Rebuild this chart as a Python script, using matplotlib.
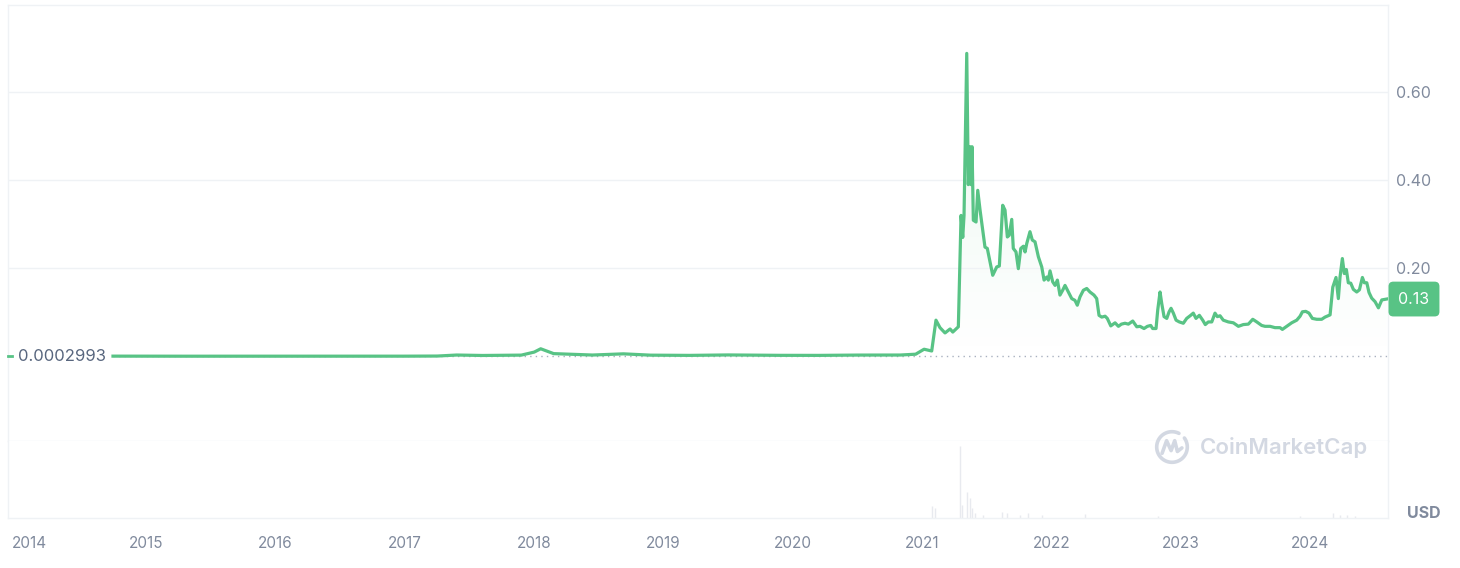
#!/usr/bin/env python3
"""
plot.py - price history chart (CoinMarketCap style) -> out.png
"""
import numpy as np
import matplotlib
matplotlib.use("Agg")
import matplotlib.pyplot as plt
import matplotlib.transforms as mtransforms

plt.rcParams["font.family"] = ["Inter", "DejaVu Sans"]

# ---- data (decimal year, USD) ----
t = [2014.742, 2015.0, 2015.3, 2015.6, 2016.0, 2016.3, 2016.6, 2017.0, 2017.25,
     2017.4, 2017.6, 2017.9, 2018.0, 2018.05, 2018.15, 2018.29, 2018.45,
     2018.69, 2018.9, 2019.2, 2019.5, 2019.9, 2020.2, 2020.5, 2020.83, 2020.95,
     2021.015, 2021.074, 2021.107, 2021.138, 2021.177, 2021.216, 2021.237,
     2021.280, 2021.301, 2021.314, 2021.324, 2021.345, 2021.357, 2021.370,
     2021.378, 2021.386, 2021.396, 2021.417, 2021.430, 2021.448, 2021.486,
     2021.504, 2021.546, 2021.577, 2021.597, 2021.623, 2021.641, 2021.659,
     2021.674, 2021.693, 2021.705, 2021.726, 2021.744, 2021.763, 2021.783,
     2021.796, 2021.809, 2021.834, 2021.852, 2021.873, 2021.899, 2021.925,
     2021.943, 2021.964, 2021.976, 2021.989, 2022.010, 2022.028, 2022.046,
     2022.066, 2022.087, 2022.105, 2022.131, 2022.157, 2022.182, 2022.200,
     2022.221, 2022.247, 2022.273, 2022.298, 2022.329, 2022.350, 2022.368,
     2022.389, 2022.415, 2022.432, 2022.459, 2022.492, 2022.518, 2022.541,
     2022.569, 2022.595, 2022.629, 2022.660, 2022.685, 2022.716, 2022.742,
     2022.768, 2022.783, 2022.809, 2022.822, 2022.840, 2022.853, 2022.871,
     2022.892, 2022.910, 2022.925, 2022.943, 2022.964, 2022.989, 2023.020,
     2023.046, 2023.077, 2023.097, 2023.118, 2023.144, 2023.170, 2023.190,
     2023.213, 2023.240, 2023.265, 2023.283, 2023.304, 2023.329, 2023.368,
     2023.407, 2023.446, 2023.484, 2023.523, 2023.557, 2023.588, 2023.626,
     2023.652, 2023.691, 2023.729, 2023.768, 2023.786, 2023.820, 2023.858,
     2023.897, 2023.923, 2023.941, 2023.967, 2023.992, 2024.018, 2024.052,
     2024.090, 2024.116, 2024.155, 2024.176, 2024.201, 2024.219, 2024.232,
     2024.250, 2024.265, 2024.281, 2024.296, 2024.315, 2024.335, 2024.361,
     2024.382, 2024.405, 2024.420, 2024.439, 2024.456, 2024.477, 2024.503,
     2024.529, 2024.555, 2024.593]
price = [0.0002993, 0.00017, 0.00014, 0.00015, 0.0002, 0.00025, 0.0003, 0.00022,
         0.0005, 0.0028, 0.0018, 0.0026, 0.0095, 0.017, 0.006, 0.0045, 0.0028,
         0.0055, 0.0025, 0.002, 0.003, 0.0021, 0.002, 0.0027, 0.0028, 0.0047,
         0.016, 0.012, 0.082, 0.065, 0.053, 0.062, 0.055,
         0.067, 0.32, 0.27, 0.32, 0.688, 0.39, 0.476,
         0.39, 0.476, 0.309, 0.305, 0.377, 0.332, 0.248,
         0.245, 0.184, 0.203, 0.205, 0.343, 0.332, 0.271,
         0.275, 0.311, 0.245, 0.237, 0.199, 0.245, 0.250,
         0.237, 0.256, 0.283, 0.264, 0.260, 0.226, 0.203,
         0.173, 0.180, 0.173, 0.194, 0.169, 0.161, 0.173,
         0.139, 0.150, 0.161, 0.146, 0.131, 0.127, 0.116,
         0.135, 0.150, 0.154, 0.146, 0.139, 0.131, 0.093,
         0.089, 0.091, 0.086, 0.069, 0.076, 0.068, 0.073,
         0.075, 0.073, 0.080, 0.067, 0.068, 0.063, 0.068,
         0.070, 0.063, 0.063, 0.105, 0.146, 0.120, 0.090,
         0.086, 0.101, 0.109, 0.098, 0.082, 0.078, 0.075,
         0.086, 0.093, 0.098, 0.086, 0.093, 0.082, 0.072,
         0.078, 0.078, 0.098, 0.090, 0.092, 0.082, 0.078,
         0.076, 0.068, 0.072, 0.073, 0.084, 0.078, 0.070,
         0.068, 0.068, 0.065, 0.065, 0.061, 0.068, 0.076,
         0.082, 0.091, 0.101, 0.102, 0.098, 0.086, 0.084,
         0.084, 0.089, 0.094, 0.157, 0.179, 0.131, 0.180,
         0.222, 0.188, 0.197, 0.167, 0.166, 0.152, 0.146,
         0.151, 0.179, 0.167, 0.167, 0.145, 0.132, 0.124,
         0.110, 0.128, 0.130]

# traded volume, billions USD (only the visible bars)
vol_t = [2021.077, 2021.100, 2021.293, 2021.308, 2021.347, 2021.370, 2021.386,
         2021.409, 2021.471, 2021.616, 2021.654, 2021.757, 2021.819, 2021.925,
         2022.260, 2022.827, 2023.923, 2024.180, 2024.232, 2024.286, 2024.348]
vol = [11.3, 9.7, 70.0, 12.6, 24.9, 19.4, 9.7, 4.9, 3.4, 5.8, 4.9, 3.4, 4.9, 3.4,
       3.9, 2.4, 1.9, 4.9, 3.4, 3.4, 1.9]

years = list(range(2014, 2025))
price_ticks = [0.2, 0.4, 0.6]
base = price[0]
last = price[-1]

GREEN = "#58c385"
GRID = "#eff2f5"
TICK = "#808a9d"

fig = plt.figure(figsize=(14.6, 5.68), dpi=100)
W, H = 1460, 568
ax = fig.add_axes([8 / W, 1 - 441 / H, 1380 / W, 436 / H])
axv = fig.add_axes([8 / W, 1 - 518 / H, 1380 / W, 77 / H], sharex=ax)

xmin, xmax = 2013.930, 2024.603
ax.set_xlim(xmin, xmax)
ax.set_ylim(-0.1925, 0.798)

# gradient fill under the line
poly = ax.fill_between(t, price, base, color="none", lw=0)
grad = np.linspace(0, 1, 256).reshape(-1, 1)
cmap = matplotlib.colors.LinearSegmentedColormap.from_list(
    "g", [(0.345, 0.765, 0.522, 0.0), (0.345, 0.765, 0.522, 0.13)])
img = ax.imshow(grad, cmap=cmap, aspect="auto", origin="lower",
                extent=[xmin, xmax, base, max(price)], zorder=1)
img.set_clip_path(poly.get_paths()[0], transform=ax.transData)

ax.plot(t, price, color=GREEN, lw=2.3, zorder=3, solid_joinstyle="round")
ax.hlines(base, t[0], xmax, colors="#a9b1c0", lw=1, linestyles=(0, (1, 3)), zorder=2)

# axes styling
ax.set_yticks(price_ticks)
ax.set_yticklabels([f"{v:.2f}" for v in price_ticks])
ax.yaxis.tick_right()
ax.tick_params(axis="y", length=0, pad=6, labelcolor=TICK, labelsize=11.5)
ax.tick_params(axis="x", length=0, labelbottom=False)
ax.grid(axis="y", color=GRID, lw=1)
for s in ax.spines.values():
    s.set_color(GRID)
    s.set_linewidth(1)

axv.vlines(vol_t, 0, vol, colors="#e8eaef", lw=1)
axv.set_ylim(0, max(vol) * 77 / 72)
axv.set_yticks([])
tick_pos = [max(y, xmin + 0.163) for y in years]
axv.set_xticks(tick_pos)
axv.set_xticklabels([str(y) for y in years])
axv.tick_params(axis="x", length=0, pad=13, labelcolor=TICK, labelsize=11)
for s in axv.spines.values():
    s.set_color(GRID)
    s.set_linewidth(1)
axv.spines["top"].set_visible(False)

# start value label on the left
blend = mtransforms.blended_transform_factory(ax.transAxes, ax.transData)
ax.plot([0, 0.003], [base, base], color=GREEN, lw=2, transform=blend, zorder=4,
        clip_on=False)
ax.text(0.0072, base, f"{base:.7f}", transform=blend, ha="left", va="center",
        fontsize=12, color="#58667e", zorder=5,
        bbox=dict(fc="white", ec="none", pad=1))

# current value tag on the right
ax.annotate(f"{last:.2f}", xy=(1, last), xycoords=blend, xytext=(7.5, 0),
            textcoords="offset points", ha="left", va="center", fontsize=11.5,
            color="white",
            bbox=dict(boxstyle="round,pad=0.62,rounding_size=0.3", fc=GREEN, ec="none"),
            annotation_clip=False)

fig.text(1424 / W, 1 - 513 / H, "USD", ha="center", va="center", fontsize=11.5,
         fontweight="bold", color="#808a9d")

# watermark
wm = "#d3d8e2"
fig.text(1200 / W, 1 - 447 / H, "CoinMarketCap", ha="left", va="center",
         fontsize=16, fontweight="semibold", color=wm)
lax = fig.add_axes([1154 / W, 1 - 465 / H, 36 / W, 36 / H])
lax.set_xlim(-1, 1)
lax.set_ylim(-1, 1)
lax.axis("off")
th = np.linspace(0.35 * np.pi, 2.2 * np.pi, 100)
lax.plot(0.85 * np.cos(th), 0.85 * np.sin(th), color=wm, lw=2.6,
         solid_capstyle="round")
lax.plot([-0.55, -0.3, -0.05, 0.15, 0.3, 0.55],
         [-0.35, 0.35, -0.2, 0.35, -0.25, -0.05], color=wm, lw=2.6,
         solid_joinstyle="round", solid_capstyle="round")

fig.savefig("out.png", dpi=100, facecolor="white")
